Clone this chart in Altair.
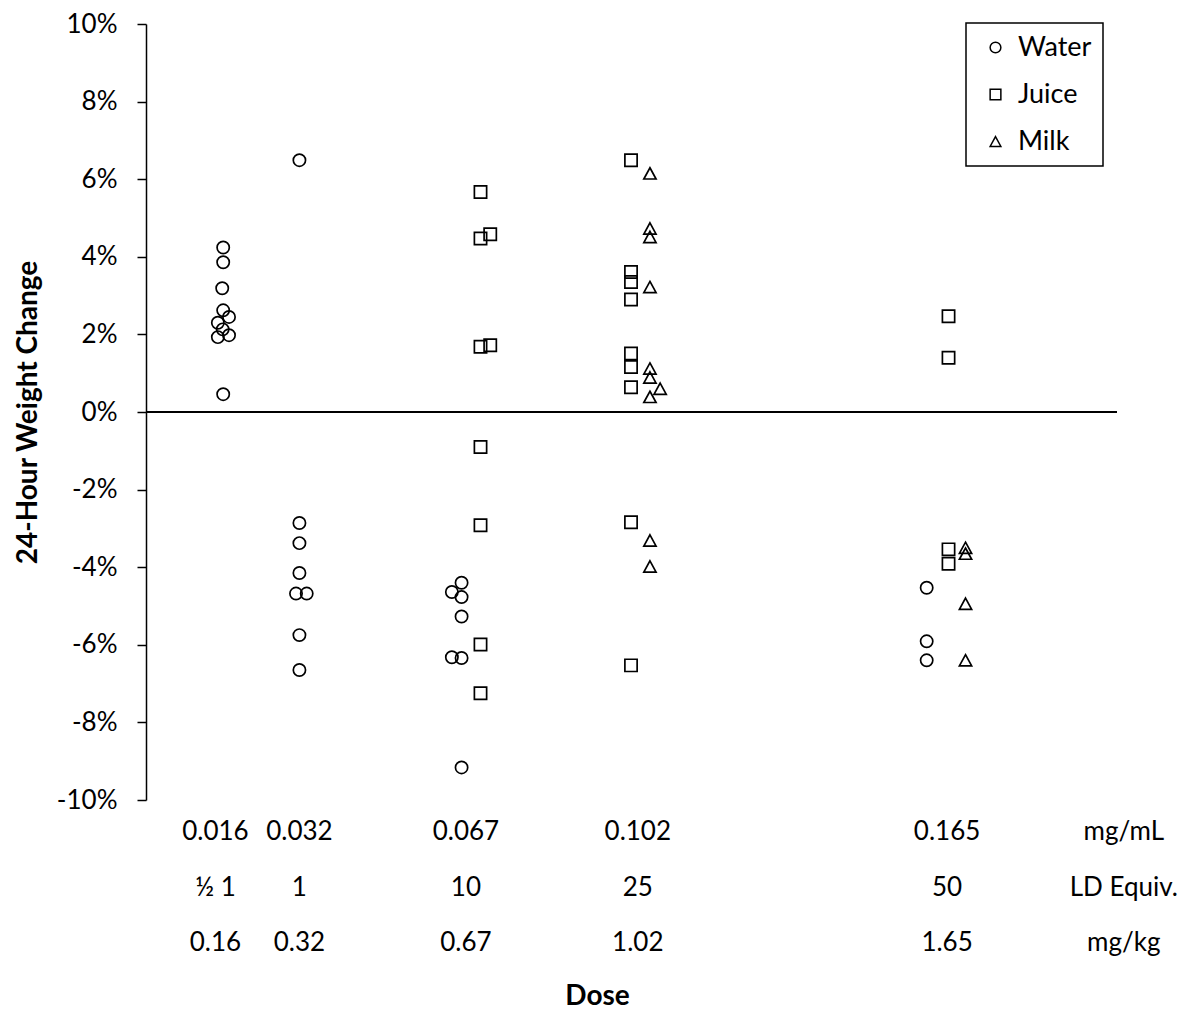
import altair as alt
import pandas as pd

# ---- data (x in mg/mL with the chart's own jitter, y in %) ----
series = ["Water", "Juice", "Milk"]

water_x = [0.0159, 0.0159, 0.0157, 0.0159, 0.0171, 0.0148, 0.0158, 0.0148, 0.0171, 0.0159,
           0.0316, 0.0316, 0.0316, 0.0316, 0.0309, 0.0331, 0.0316, 0.0316,
           0.0650, 0.0630, 0.0650, 0.0650, 0.0630, 0.0650, 0.0650,
           0.1608, 0.1608, 0.1608]
water_y = [4.24, 3.86, 3.19, 2.62, 2.45, 2.30, 2.13, 1.93, 1.98, 0.46,
           6.49, -2.86, -3.38, -4.15, -4.68, -4.68, -5.75, -6.65,
           -4.40, -4.64, -4.77, -5.27, -6.32, -6.34, -9.16,
           -4.53, -5.91, -6.40]

juice_x = [0.0689, 0.0709, 0.0689, 0.0689, 0.0709, 0.0689, 0.0689, 0.0689, 0.0689,
           0.0999, 0.0999, 0.0999, 0.0999, 0.0999, 0.0999, 0.0999, 0.0999, 0.0999,
           0.1653, 0.1653, 0.1653, 0.1653]
juice_y = [5.67, 4.58, 4.47, 1.68, 1.72, -0.90, -2.92, -5.99, -7.25,
           6.49, 3.61, 3.35, 2.90, 1.51, 1.16, 0.64, -2.84, -6.53,
           2.47, 1.40, -3.54, -3.91]

milk_x = [0.1038, 0.1038, 0.1038, 0.1038, 0.1038, 0.1038, 0.1059, 0.1038, 0.1038, 0.1038,
          0.1688, 0.1688, 0.1688, 0.1688]
milk_y = [6.15, 4.73, 4.51, 3.22, 1.12, 0.89, 0.60, 0.39, -3.31, -3.98,
          -3.50, -3.65, -4.94, -6.40]

label_x = [0.0143, 0.0316, 0.0659, 0.1013, 0.1650, 0.2014]
row_mgml = ["0.016", "0.032", "0.067", "0.102", "0.165", "mg/mL"]
row_ld = ["\u00bd 1", "1", "10", "25", "50", "LD Equiv."]
row_mgkg = ["0.16", "0.32", "0.67", "1.02", "1.65", "mg/kg"]

y_ticks = [-10, -8, -6, -4, -2, 0, 2, 4, 6, 8, 10]

# ---- tables ----
pts = pd.concat([
    pd.DataFrame({"x": water_x, "y": water_y, "series": "Water"}),
    pd.DataFrame({"x": juice_x, "y": juice_y, "series": "Juice"}),
    pd.DataFrame({"x": milk_x, "y": milk_y, "series": "Milk"}),
], ignore_index=True)

labels = pd.DataFrame({"x": label_x, "mgml": row_mgml, "ld": row_ld, "mgkg": row_mgkg})

FONT = "Lato"
FS = 26
TFS = 28
TRI = "M0,-0.92L1,0.92L-1,0.92Z"

x_scale = alt.Scale(domain=[0, 0.2], nice=False, zero=False)
y_scale = alt.Scale(domain=[-10, 10], nice=False)

points = alt.Chart(pts).mark_point(filled=False, strokeWidth=1.7, opacity=1, size=150).encode(
    x=alt.X("x:Q", scale=x_scale,
            axis=alt.Axis(title="Dose", labels=False, ticks=False, domain=False, grid=False,
                          titleX=451, titleY=204, titleBaseline="alphabetic", titleAlign="center",
                          titleFont=FONT, titleFontSize=TFS, titleFontWeight="bold",
                          titleColor="black")),
    y=alt.Y("y:Q", scale=y_scale,
            axis=alt.Axis(title="24-Hour Weight Change", values=y_ticks,
                          labelExpr="datum.value + '%'", grid=False,
                          domainColor="black", domainWidth=1.5,
                          tickColor="black", tickWidth=1.5, tickSize=9,
                          labelPadding=20, labelFont=FONT, labelFontSize=FS,
                          labelColor="black",
                          titleFont=FONT, titleFontSize=TFS, titleFontWeight="bold",
                          titleColor="black", titleX=-118, titleBaseline="middle")),
    shape=alt.Shape("series:N",
                    scale=alt.Scale(domain=series, range=["circle", "square", TRI]),
                    legend=alt.Legend(title=None, orient="none", legendX=820, legendY=-1,
                                      strokeColor="black", padding=11, rowPadding=19,
                                      symbolOffset=5, labelOffset=9, symbolSize=115,
                                      symbolStrokeWidth=1.5, symbolStrokeColor="black",
                                      symbolFillColor="transparent",
                                      labelFont=FONT, labelFontSize=27, labelColor="black")),
    color=alt.value("black"),
)

zero = alt.Chart(pts).mark_rule(color="black", strokeWidth=2).encode(y=alt.datum(0))

def text_row(field, ypix):
    return alt.Chart(labels).mark_text(font=FONT, fontSize=FS, color="black",
                                       align="center", baseline="alphabetic").encode(
        x=alt.X("x:Q", scale=x_scale),
        y=alt.value(ypix),
        text=alt.Text(f"{field}:N"),
    )

chart = alt.layer(
    zero, points,
    text_row("mgml", 816), text_row("ld", 872), text_row("mgkg", 927),
).properties(
    width=971, height=776,
    autosize=alt.AutoSizeParams(type="none"),
    padding={"left": 138, "top": 16, "right": 75, "bottom": 214},
).configure_view(stroke=None).configure_legend(strokeWidth=1.5)

chart.save("out.html", embed_options={"renderer": "svg", "actions": False})
